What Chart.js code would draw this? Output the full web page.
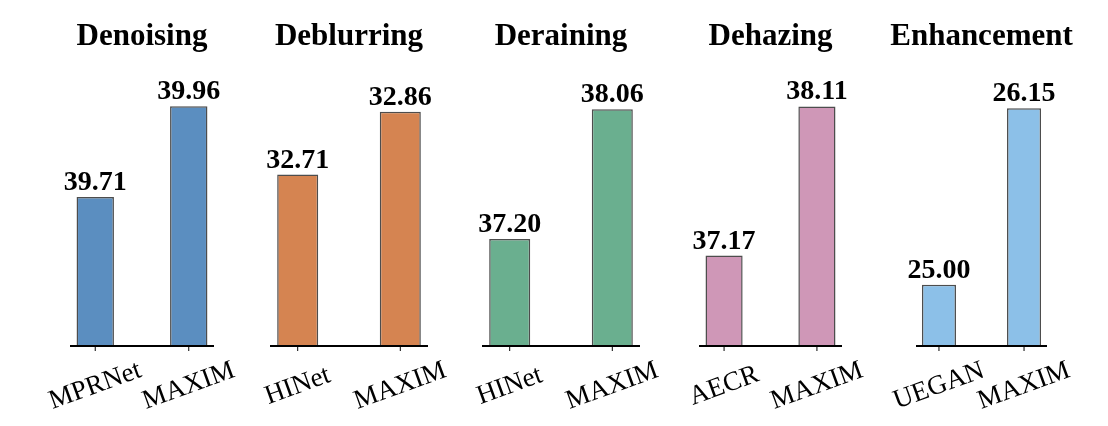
<!DOCTYPE html>
<html>
<head>
<meta charset="utf-8">
<script src="https://cdn.jsdelivr.net/npm/chart.js@4"></script>
<style>
  html, body { margin: 0; padding: 0; background: #fff; }
  #figura { position: relative; width: 1108px; height: 426px; overflow: hidden; }
  .panel { position: absolute; top: 0; height: 426px; }
</style>
</head>
<body>
<div id="figura"></div>
<script>
// Datos de cada tarea (PSNR)
const tareas = ["Denoising", "Deblurring", "Deraining", "Dehazing", "Enhancement"];
const metodosBase = ["MPRNet", "HINet", "HINet", "AECR", "UEGAN"];
const puntajesBase = [39.71, 32.71, 37.20, 37.17, 25.00];
const puntajesMaxim = [39.96, 32.86, 38.06, 38.11, 26.15];

// Límites del eje y de cada panel
const yMin = [39.30, 32.30, 36.49, 36.60, 24.60];
const yMax = [40.06, 32.96, 38.32, 38.34, 26.40];

const colores = ["#5b8ec0", "#d58451", "#6aaf8f", "#cf97b7", "#8cc0e8"];

// Posición del eje x de cada panel (px)
const ejes = [[70, 214], [270, 428], [482, 640], [699, 842], [916, 1047]];
const MARGEN = 40;
const ARRIBA = 70;
const ABAJO = 346;

const textos = {
  id: "textos",
  afterDatasetsDraw(chart) {
    const ctx = chart.ctx;
    const area = chart.chartArea;
    const xs = chart.scales.x;
    const i = chart.options.panel;

    ctx.save();
    // línea del eje
    ctx.strokeStyle = "#000";
    ctx.lineWidth = 2;
    ctx.beginPath();
    ctx.moveTo(area.left, area.bottom);
    ctx.lineTo(area.right, area.bottom);
    ctx.stroke();

    const nombres = [metodosBase[i], "MAXIM"];
    ctx.lineWidth = 1;
    ctx.fillStyle = "#000";
    nombres.forEach((n, k) => {
      const x = xs.getPixelForValue(k);
      ctx.beginPath();
      ctx.moveTo(x, area.bottom);
      ctx.lineTo(x, area.bottom + 5);
      ctx.stroke();

      ctx.save();
      ctx.translate(x, area.bottom + 40);
      ctx.rotate(-20 * Math.PI / 180);
      ctx.font = '27px "Liberation Serif"';
      ctx.textAlign = "center";
      ctx.textBaseline = "middle";
      ctx.fillText(n, 0, 0);
      ctx.restore();
    });

    // valores encima de las barras
    ctx.font = 'bold 28px "Liberation Serif"';
    ctx.textAlign = "center";
    ctx.textBaseline = "alphabetic";
    chart.getDatasetMeta(0).data.forEach((bar, k) => {
      const v = chart.data.datasets[0].data[k].y;
      ctx.fillText(v.toFixed(2), bar.x, bar.y - 7);
    });

    // título
    ctx.font = 'bold 31px "Liberation Serif"';
    ctx.fillText(tareas[i], (area.left + area.right) / 2, 45);
    ctx.restore();
  }
};

const figura = document.getElementById("figura");

tareas.forEach((tarea, i) => {
  const [izq, der] = ejes[i];
  const div = document.createElement("div");
  div.className = "panel";
  div.style.left = (izq - MARGEN) + "px";
  div.style.width = (der - izq + 2 * MARGEN) + "px";
  const canvas = document.createElement("canvas");
  div.appendChild(canvas);
  figura.appendChild(div);

  new Chart(canvas, {
    type: "bar",
    data: {
      datasets: [{
        data: [
          { x: 0, y: puntajesBase[i] },
          { x: 1, y: puntajesMaxim[i] }
        ],
        backgroundColor: colores[i],
        borderColor: "#4d4d4d",
        borderWidth: 1.5,
        categoryPercentage: 1,
        barPercentage: 0.4
      }]
    },
    options: {
      panel: i,
      responsive: true,
      maintainAspectRatio: false,
      animation: false,
      layout: {
        padding: { left: MARGEN, right: MARGEN, top: ARRIBA, bottom: 426 - ABAJO }
      },
      plugins: {
        legend: { display: false },
        tooltip: { enabled: false }
      },
      scales: {
        x: {
          type: "linear",
          display: false,
          offset: false,
          min: -0.27,
          max: 1.27,
          afterBuildTicks: axis => { axis.ticks = [{ value: 0 }, { value: 1 }]; }
        },
        y: {
          display: false,
          min: yMin[i],
          max: yMax[i]
        }
      }
    },
    plugins: [textos]
  });
});
</script>
</body>
</html>
